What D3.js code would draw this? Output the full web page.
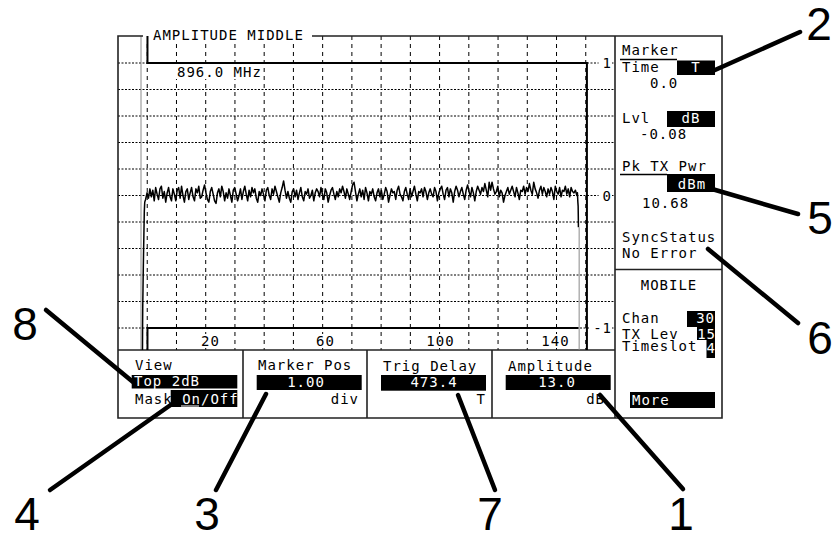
<!DOCTYPE html>
<html>
<head>
<meta charset="utf-8">
<script src="https://cdn.jsdelivr.net/npm/d3@7"></script>
<style>
  html, body { margin: 0; padding: 0; background: #fff; }
  svg { display: block; }
  .mono { font-family: "DejaVu Sans Mono", monospace; font-size: 14px; letter-spacing: 1px; }
  .callout { font-family: "Liberation Sans", Arial, sans-serif; font-size: 46px; }
</style>
</head>
<body>
<svg id="screen" width="835" height="535"></svg>
<script>
// ---- data -------------------------------------------------------------
// time axis labels (bits) and level labels (dB, "Top 2dB" view)
const xTicks = [20, 60, 100, 140];
const yTicks = [1, 0, -1];
const gridLevels = [-1, -0.8, -0.6, -0.4, -0.2, 0, 0.2, 0.4, 0.6, 0.8, 1];

// rising edge of the burst (bit, dB)
const riseBits   = [-3.5, -3.45, -3.4, -3.3, -3.2, -3.1, -3.0, -2.85, -2.7, -2.55];
const riseLevels = [-1.25, -1.0, -0.85, -0.7, -0.55, -0.42, -0.3, -0.12, -0.05, -0.04];

// useful part of the burst, sampled every half bit from bit -2.4 (hundredths of a dB)
const traceStart = -2.4;
const traceStep = 0.5;
const traceLevels = [
  -3,2,-2,5,-1,4,-4,6,1,-3,5,7,-2,3,-5,2,6,-1,-4,5,
  1,-4,4,6,-2,7,0,-5,3,5,-3,2,6,-1,-4,5,2,7,-2,-1,
  4,8,2,-3,-5,3,6,1,-4,-6,2,5,-1,7,3,-4,2,-2,5,0,
  -5,4,6,1,-4,0,5,-3,3,7,1,-4,4,-1,6,2,5,-2,-5,3,
  0,5,1,-4,4,6,0,-3,5,1,7,3,-1,-5,2,6,11,4,-2,3,
  -2,-5,3,5,-1,4,-3,2,6,-1,-4,3,1,5,-2,0,4,-4,2,5,
  3,-1,6,1,-3,5,2,-5,0,4,6,1,-3,3,-1,5,2,7,3,-2,
  5,1,-3,3,8,10,3,-4,1,5,-1,4,-3,6,2,-4,3,1,5,-1,
  -4,2,5,-1,4,-3,1,6,3,-5,0,5,2,3,-3,4,7,1,-1,-4,
  3,6,1,-3,5,-1,3,7,1,-4,3,2,5,-1,6,3,-3,2,5,1,
  -1,6,3,-4,2,5,7,1,-3,4,6,-1,5,2,-5,3,7,4,-1,3,
  6,1,-3,4,8,3,-1,6,2,-4,3,7,4,1,6,3,9,4,-1,10,
  4,10,5,1,3,7,-1,4,2,-5,0,3,6,1,4,7,3,-1,6,2,
  -3,4,3,7,1,6,3,9,4,1,10,5,2,-2,4,7,1,6,3,-1,
  5,1,6,3,-3,7,3,1,6,-1,4,3,7,1,5,-1,6,3,2,4,0
];

// falling edge (bit, dB) and the off-screen tail
const fallBits   = [147.8, 147.95, 148.05, 148.1, 148.15];
const fallLevels = [0.02, -0.05, -0.08, -0.15, -0.24];
const tailBits   = [148.4, 148.4];
const tailLevels = [-0.24, -1.3];

// limit mask (bit, dB)
const upperMaskBits   = [-1.75, -1.75, 151.1, 151.1];
const upperMaskLevels = [1.3, 1, 1, -1.3];
const lowerMaskBits   = [-1.75, -1.75, 148.2];
const lowerMaskLevels = [-1.3, -1, -1];

const markerBit = -4.0;

// ---- layout ----------------------------------------------------------
const svg = d3.select("#screen");
const W = 835, H = 535;
const plot = { left: 118, right: 615, top: 36, bottom: 350 };
const panel = { left: 615, right: 722, top: 36, bottom: 418 };
const keys = { top: 350, bottom: 418 };

const x = d3.scaleLinear().domain([20, 140]).range([210, 555]);
const y = d3.scaleLinear().domain([-1, 1]).range([328, 63]);
const div = d3.scaleLinear().domain([0, 17]).range([plot.left, plot.right]);

svg.append("rect").attr("width", W).attr("height", H).attr("fill", "#fff");

svg.append("defs").append("clipPath").attr("id", "plotClip")
  .append("rect").attr("x", plot.left).attr("y", plot.top)
  .attr("width", plot.right - plot.left).attr("height", plot.bottom - plot.top);

const gPlot = svg.append("g").attr("clip-path", "url(#plotClip)");

// graticule
gPlot.selectAll("line.hgrid").data(gridLevels).join("line")
  .attr("class", "hgrid")
  .attr("x1", plot.left).attr("x2", plot.right)
  .attr("y1", d => y(d)).attr("y2", d => y(d))
  .attr("stroke", "#000").attr("stroke-width", 1)
  .attr("stroke-dasharray", "2,1.5");

gPlot.selectAll("line.vgrid").data(d3.range(1, 17)).join("line")
  .attr("class", "vgrid")
  .attr("x1", d => div(d)).attr("x2", d => div(d))
  .attr("y1", plot.top).attr("y2", plot.bottom)
  .attr("stroke", "#000").attr("stroke-width", 1)
  .attr("stroke-dasharray", "4,4");

// marker line
gPlot.append("line")
  .attr("x1", x(markerBit)).attr("x2", x(markerBit))
  .attr("y1", plot.top).attr("y2", plot.bottom)
  .attr("stroke", "#8a8a8a").attr("stroke-width", 1);

// ---- frame -------------------------------------------------------------
const frame = svg.append("g").attr("stroke", "#222").attr("stroke-width", 1.6).attr("fill", "none");
frame.append("path").attr("d",
  `M${plot.left},${plot.top} H${panel.right} V${panel.bottom} H${plot.left} Z`);
frame.append("line").attr("x1", panel.left).attr("x2", panel.left)
  .attr("y1", panel.top).attr("y2", panel.bottom);
frame.append("line").attr("x1", plot.left).attr("x2", panel.left)
  .attr("y1", keys.top).attr("y2", keys.top);
frame.append("line").attr("x1", panel.left).attr("x2", panel.right)
  .attr("y1", 269.5).attr("y2", 269.5);
[243, 367, 492].forEach(xx => frame.append("line")
  .attr("x1", xx).attr("x2", xx).attr("y1", keys.top).attr("y2", keys.bottom));

// ---- text helpers ----------------------------------------------------
function txt(s, xx, yb, anchor, fill) {
  return svg.append("text").attr("class", "mono")
    .attr("x", xx).attr("y", yb)
    .attr("text-anchor", anchor || "start")
    .attr("fill", fill || "#000")
    .text(s);
}
function box(x0, x1, y0, y1, fill) {
  return svg.append("rect").attr("x", x0).attr("y", y0)
    .attr("width", x1 - x0).attr("height", y1 - y0)
    .attr("fill", fill || "#000");
}
function line(x1, y1, x2, y2, w, c) {
  return svg.append("line").attr("x1", x1).attr("y1", y1).attr("x2", x2).attr("y2", y2)
    .attr("stroke", c || "#000").attr("stroke-width", w || 1);
}

// title
box(143, 312, 28, 42, "#fff");
txt("AMPLITUDE MIDDLE", 153, 40);

// ---- mask & trace ----------------------------------------------------
const path = d3.line().x(d => x(d[0])).y(d => y(d[1]));

const gTrace = svg.append("g").attr("clip-path", "url(#plotClip)");

gTrace.append("path")
  .datum(upperMaskBits.map((b, i) => [b, upperMaskLevels[i]]))
  .attr("d", path).attr("fill", "none").attr("stroke", "#000").attr("stroke-width", 2);
gTrace.append("path")
  .datum(lowerMaskBits.map((b, i) => [b, lowerMaskLevels[i]]))
  .attr("d", path).attr("fill", "none").attr("stroke", "#000").attr("stroke-width", 2);

const burst = []
  .concat(riseBits.map((b, i) => [b, riseLevels[i]]))
  .concat(traceLevels.map((v, i) => [traceStart + traceStep * i, v / 100]))
  .concat(fallBits.map((b, i) => [b, fallLevels[i]]));

gTrace.append("path").datum(burst)
  .attr("d", path).attr("fill", "none")
  .attr("stroke", "#000").attr("stroke-width", 1.5).attr("stroke-linejoin", "round");

gTrace.append("path").datum(tailBits.map((b, i) => [b, tailLevels[i]]))
  .attr("d", path).attr("fill", "none")
  .attr("stroke", "#8a8a8a").attr("stroke-width", 1);

// frequency readout
box(175, 263, 65, 79, "#fff");
txt("896.0 MHz", 177, 77);

// level labels on the right of the graticule
yTicks.forEach(v => {
  const label = String(v);
  const wdt = label.length * 9.4;
  box(611 - wdt - 3, 612, y(v) - 7, y(v) + 7, "#fff");
  txt(label, 612, y(v) + 5, "end");
});

// time labels along the bottom
xTicks.forEach(v => {
  const label = String(v);
  const wdt = label.length * 9.4;
  box(x(v) - wdt / 2 - 2, x(v) + wdt / 2 + 2, 334, 348, "#fff");
  txt(label, x(v) + 0.5, 346, "middle");
});

// ---- right-hand panel ------------------------------------------------
txt("Marker", 622, 55);
line(620, 59.5, 677, 59.5, 1.3);
txt("Time", 622, 72);
box(677, 715, 60.5, 75);
txt("T", 696, 72, "middle", "#fff");
txt("0.0", 650, 88);

txt("Lvl", 622, 123);
box(667, 715, 111, 127);
txt("dB", 691, 123, "middle", "#fff");
txt("-0.08", 640, 139);

txt("Pk TX Pwr", 622, 171);
line(620, 174.5, 667, 174.5, 1.3);
box(667, 715, 174, 192);
txt("dBm", 692, 189, "middle", "#fff");
txt("10.68", 642, 208);

txt("SyncStatus", 622, 242);
txt("No Error", 622, 258);

txt("MOBILE", 669, 290, "middle");

txt("Chan", 622, 323);
box(687, 715, 311, 327);
txt("30", 715, 323, "end", "#fff");
txt("TX Lev", 622, 339);
box(697, 715, 327, 340);
txt("15", 716, 339, "end", "#fff");
txt("Timeslot", 622, 351);
box(706.5, 715, 340, 358);
txt("4", 716, 353, "end", "#fff");

box(630, 715, 392, 408);
txt("More", 632, 405, "start", "#fff");

// ---- soft keys -------------------------------------------------------
txt("View", 135, 370);
box(131.7, 237.3, 375, 388.5);
txt("Top 2dB", 134, 386, "start", "#fff");
box(170.7, 237.3, 390, 407);
const mask = txt("", 135, 404);
mask.append("tspan").text("Mask");
mask.append("tspan").attr("fill", "#fff").text(" On/Off");
line(181, 406, 199, 406, 1, "#fff");

txt("Marker Pos", 258, 370);
box(256.7, 361.7, 375, 390);
txt("1.00", 306, 387, "middle", "#fff");
txt("div", 359, 404, "end");

txt("Trig Delay", 383, 371);
box(381, 486, 375, 390.7);
txt("473.4", 434, 387, "middle", "#fff");
txt("T", 486, 404, "end");

txt("Amplitude", 508, 371);
box(505.7, 610.7, 375, 390);
txt("13.0", 557, 387, "middle", "#fff");
txt("dB", 605, 404, "end");

// ---- numbered callouts -----------------------------------------------
const callouts = [
  { n: "1", tx: 681, ty: 530, from: [600, 395], to: [683, 489] },
  { n: "2", tx: 819, ty: 40,  from: [715, 70],  to: [800, 32] },
  { n: "3", tx: 207, ty: 530, from: [266, 394], to: [216, 490] },
  { n: "4", tx: 27,  ty: 530, from: [172, 404], to: [50, 490] },
  { n: "5", tx: 820, ty: 234, from: [712, 189], to: [798, 214] },
  { n: "6", tx: 820, ty: 354, from: [708, 249], to: [798, 323] },
  { n: "7", tx: 490, ty: 530, from: [458, 395], to: [495, 490] },
  { n: "8", tx: 25,  ty: 340, from: [46, 310],  to: [133, 382] }
];
callouts.forEach(c => {
  line(c.from[0], c.from[1], c.to[0], c.to[1], 4.5).attr("stroke-linecap", "round");
  svg.append("text").attr("class", "callout")
    .attr("x", c.tx).attr("y", c.ty).attr("text-anchor", "middle")
    .attr("fill", "#000").text(c.n);
});
</script>
</body>
</html>
